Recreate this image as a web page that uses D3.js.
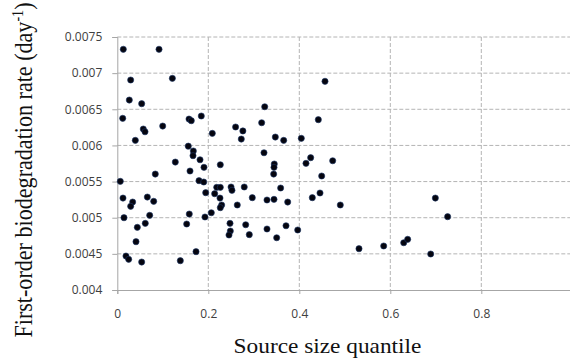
<!DOCTYPE html>
<html><head><meta charset="utf-8">
<script src="https://cdn.jsdelivr.net/npm/d3@7"></script>
<style>body{margin:0;background:#fff}svg{display:block}</style>
</head><body>
<script>
const xValues = [0.0132,0.0917,0.0294,0.121,0.0264,0.0536,0.0119,0.1576,0.1626,0.1846,0.0998,0.0571,0.0609,0.0396,0.2088,0.260,0.276,0.2725,0.156,
0.1671,0.1664,0.1818,0.1275,0.2264,0.1905,0.1598,0.0835,0.0066,0.1796,0.190,0.1943,0.2185,0.2264,0.214,0.25,0.252,0.279,0.2257,0.2967,0.0125,0.0338,0.0294,0.066,0.08,0.2294,0.2264,0.2637,0.1582,0.2066,0.1927,0.0147,0.0712,0.0615,0.044,0.1525,0.2477,0.2484,0.2455,0.2822,0.2901,0.0411,0.173,0.0191,0.025,0.0536,0.1385,
0.4565,0.324,0.3173,0.4418,0.3473,0.3657,0.4044,0.3224,0.425,0.4147,0.4734,0.345,0.3444,0.3437,0.4492,0.359,0.4455,0.4286,0.329,0.3444,0.3745,0.4901,0.329,0.3708,0.3503,0.3965,0.5312,0.5855,0.6295,0.6382,0.699,0.726,0.6888];
const yValues = [0.00733,0.00733,0.006905,0.006928,0.006628,0.006577,0.006375,0.006365,0.006342,0.006407,0.006268,0.006227,0.006189,0.00607,0.006167,0.006255,0.0062,0.006088,0.00599,
0.005923,0.005858,0.005802,0.00577,0.005733,0.005697,0.005646,0.005604,0.005503,0.005512,0.005494,0.005346,0.00542,0.00542,0.005332,0.005425,0.005379,0.005425,0.005272,0.005277,0.005272,0.005217,0.005158,0.005286,0.005227,0.005176,0.005139,0.005176,0.005051,0.005069,0.00501,0.005,0.005033,0.004922,0.004867,0.004913,0.004922,0.004816,0.004761,0.004903,0.004766,0.004668,0.00453,0.00447,0.004425,0.004387,0.004405,
0.006887,0.006535,0.006314,0.006356,0.006116,0.00607,0.006098,0.005899,0.00583,0.005752,0.005788,0.005743,0.005697,0.005604,0.005577,0.005411,0.005342,0.005277,0.005245,0.005254,0.005217,0.005176,0.004844,0.004889,0.004723,0.00483,0.004571,0.004609,0.004654,0.004701,0.005272,0.005014,0.004498];
const xTicks = [0,0.2,0.4,0.6,0.8,1];
const yTicks = [0.004,0.0045,0.005,0.0055,0.006,0.0065,0.007,0.0075];
const xTickLabels = ["0","0.2","0.4","0.6","0.8","1"];
const yTickLabels = ["0.004","0.0045","0.005","0.0055","0.006","0.0065","0.007","0.0075"];

const W=570,H=362;
const svg=d3.select("body").append("svg").attr("width",W).attr("height",H);
const x=d3.scaleLinear().domain([0,1]).range([117.3,572.3]);
const y=d3.scaleLinear().domain([0.004,0.0075]).range([290,37]);
const gridC="#b4b4b4";

svg.append("g").selectAll("line").data(yTicks.slice(1)).join("line")
  .attr("x1",x(0)).attr("x2",W).attr("y1",d=>y(d)).attr("y2",d=>y(d))
  .attr("stroke",gridC).attr("stroke-width",1).attr("stroke-dasharray","4,2");
svg.append("g").selectAll("line").data(xTicks.slice(1,5)).join("line")
  .attr("x1",d=>x(d)).attr("x2",d=>x(d)).attr("y1",y(0.0075)).attr("y2",y(0.004))
  .attr("stroke",gridC).attr("stroke-width",1).attr("stroke-dasharray","4,2");

const xAxis=d3.axisBottom(x).tickValues(xTicks).tickFormat((d,i)=>xTickLabels[i]).tickSize(4).tickPadding(15);
const gx=svg.append("g").attr("transform",`translate(0,${y(0.004)})`).call(xAxis);
const yAxis=d3.axisLeft(y).tickValues(yTicks).tickFormat((d,i)=>yTickLabels[i]).tickSize(5).tickPadding(10);
const gy=svg.append("g").attr("transform",`translate(${x(0)},0)`).call(yAxis);
[gx,gy].forEach(g=>{
  g.select(".domain").attr("stroke","#a6a6a6");
  g.selectAll(".tick line").attr("stroke","#a6a6a6");
  g.selectAll("text").attr("fill","#404040").style("font-family","'Open Sans', sans-serif").style("font-size","12px");
});

svg.append("g").selectAll("circle").data(xValues.map((v,i)=>[v,yValues[i]])).join("circle")
  .attr("cx",d=>x(d[0])).attr("cy",d=>y(d[1])).attr("r",3.1)
  .attr("fill","#05050f").attr("stroke","#1c3768").attr("stroke-width",0.6);

// x title, stretched to match reference width
const xg=svg.append("g");
const xt=xg.append("text").attr("text-anchor","middle")
  .style("font-family","'Liberation Serif', serif").style("font-size","20px").attr("fill","#111")
  .text("Source size quantile");
const xw=xt.node().getComputedTextLength();
xg.attr("transform",`translate(327.5,353.3) scale(${188/xw},1)`);

// y title
const yg=svg.append("g");
const yt=yg.append("text").attr("text-anchor","middle")
  .style("font-family","'Liberation Serif', serif").style("font-size","22px").attr("fill","#111");
yt.append("tspan").text("First-order biodegradation rate (day");
yt.append("tspan").attr("dy",-8).style("font-size","14px").text("-1");
yt.append("tspan").attr("dy",8).text(")");
const yb=yt.node().getBBox();
const ys=335/yb.width;
yg.attr("transform",`translate(32,${170}) rotate(-90) scale(${ys},1.15) translate(${-(yb.x+yb.width/2)},0)`);
</script>
</body></html>
